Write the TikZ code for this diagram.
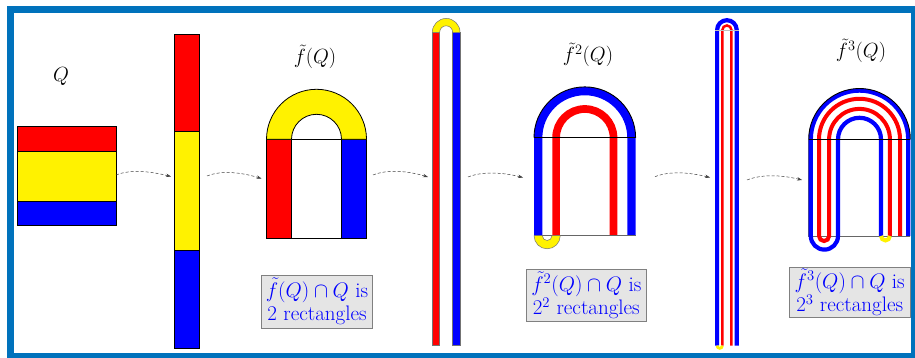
\RequirePackage{fix-cm}
\documentclass[tikz,border=0pt]{standalone}
\usetikzlibrary{arrows.meta,calc}
\definecolor{framecol}{RGB}{0,114,188}
\begin{document}
\begin{tikzpicture}[x=1pt,y=-1pt,
  outl/.style={draw=black,line width=0.8pt},
  thinoutl/.style={draw=black!55,line width=0.5pt},
  flow/.style={draw=black!75,line width=0.5pt,dash pattern=on 3pt off 2pt,-{Stealth[length=5pt,width=3.5pt]}},
  lbl/.style={font=\fontsize{20.5}{24}\selectfont},
  infobox/.style={draw=black!50,fill=black!10,line width=0.8pt,text=blue,align=center,font=\fontsize{21}{23.5}\selectfont,inner sep=1pt},
]
\useasboundingbox (0,0) rectangle (915,358);
\fill[white] (0,0) rectangle (915,358);
\draw[framecol,line width=7pt] (10.5,9.5) rectangle (914.5,356.5);

% ---- Q square
\filldraw[fill=red,outl] (17,126) rectangle (116,151);
\filldraw[fill=yellow,outl] (17,151) rectangle (116,201);
\filldraw[fill=blue,outl] (17,201) rectangle (116,225);
\node[lbl] (lq) at (61,76) {$Q$};

% ---- strip 1
\filldraw[fill=red,outl] (174.3,34.3) rectangle (199.3,131.7);
\filldraw[fill=yellow,outl] (174.3,131.7) rectangle (199.3,250);
\filldraw[fill=blue,outl] (174.3,250) rectangle (199.3,348.3);

% ---- horseshoe 1
\filldraw[fill=red,outl] (266.5,139.3) rectangle (291.5,238.3);
\filldraw[fill=blue,outl] (341.5,139.3) rectangle (366.5,238.3);
\draw[outl] (291.5,139.3) rectangle (341.5,238.3);
\filldraw[fill=yellow,outl] (266.5,139.3) arc(180:360:50) -- (341.5,139.3) arc(360:180:25) -- cycle;
\node[lbl] (l1) at (315,57) {$\tilde f(Q)$};
\node[infobox,minimum width=110.6pt,minimum height=53.3pt] (b1) at (317,301.7) {$\tilde f(Q)\cap Q$ is\\2 rectangles};

% ---- strip 2
\filldraw[fill=red,thinoutl] (432.3,32.3) rectangle (439.5,345.7);
\filldraw[fill=blue,thinoutl] (452.5,32.3) rectangle (460,345.7);
\filldraw[fill=yellow,thinoutl] (432.3,32.3) arc(180:360:13.85) -- (452.65,32.3) arc(360:180:6.5) -- cycle;

% ---- horseshoe 2
\draw[black!60,line width=0.8pt] (534,137.7) -- (534,235.7) -- (635.6,235.7);
\draw[blue,line width=8.3pt] (538.2,235.7) -- (538.2,137.7) arc(180:360:46.6) -- (631.4,235.7);
\draw[red,line width=7.7pt] (556.1,235.7) -- (556.1,137.7) arc(180:360:28.7) -- (613.5,235.7);
\draw[black!60,line width=0.6pt] (556,235.7) -- (635.6,235.7);
\filldraw[fill=yellow,thinoutl] (534.05,235.7) arc(180:0:13.1) -- (551.95,235.7) arc(0:180:4.8) -- cycle;
\draw[black,line width=0.9pt] (534,137.7) arc(180:360:50.8);
\draw[black,line width=0.7pt] (534,137.7) -- (635.6,137.7);
\node[lbl] (l2) at (588,55) {$\tilde f^2(Q)$};
\node[infobox,minimum width=119.3pt,minimum height=52.4pt] (b2) at (586.3,295.5) {$\tilde f^2(Q)\cap Q$ is\\$2^2$ rectangles};

% ---- strip 3
\draw[blue,line width=4.2pt] (717.1,345.7) -- (717.1,30) arc(180:360:9.8) -- (736.7,345.7);
\draw[red,line width=2.5pt] (722.35,345.7) -- (722.35,30) arc(180:360:4.55) -- (731.45,345.7);
\draw[black!25,line width=0.5pt] (715,30) -- (738.8,30);
\draw[yellow,line width=2.8pt] (717.1,345.7) arc(180:0:2.62);

% ---- horseshoe 3
\draw[black!60,line width=0.8pt] (808.7,139.3) -- (808.7,236) -- (910.3,236);
\draw[blue,line width=4.2pt] (908.2,236) -- (908.2,139.3) arc(0:-180:48.7) -- (810.8,236) arc(180:0:13.6) -- (838,139.3) arc(180:360:21.5) -- (881,236);
\draw[red,line width=4pt] (900,236) -- (900,139.3) arc(0:-180:40.5) -- (819,236) arc(180:0:5.05) -- (829.1,139.3) arc(180:360:30.4) -- (889.9,236);
\draw[black!60,line width=0.6pt] (842,236) -- (910.3,236);
\draw[yellow,line width=4pt] (881,236) arc(180:0:4.45);
\draw[black,line width=0.9pt] (808.7,139.3) arc(180:360:50.8);
\draw[black,line width=0.7pt] (808.7,139.3) -- (910.3,139.3);
\node[lbl] (l3) at (861,51) {$\tilde f^3(Q)$};
\node[infobox,minimum width=120.7pt,minimum height=50pt] (b3) at (849.7,292.7) {$\tilde f^3(Q)\cap Q$ is\\$2^3$ rectangles};

% ---- arrows
\coordinate (s1) at (116,175);   \coordinate (e1) at (171,176.5);
\coordinate (s2) at (207,176);   \coordinate (e2) at (261.5,178.5);
\coordinate (s3) at (373,175);   \coordinate (e3) at (428,177);
\coordinate (s4) at (468,177);   \coordinate (e4) at (523,177.5);
\coordinate (s5) at (655,176.7); \coordinate (e5) at (710,177.5);
\coordinate (s6) at (747,180);   \coordinate (e6) at (802,180);
\draw[flow] (s1) .. controls ($(s1)+(15,-6)$) and ($(e1)+(-20,-5)$) .. (e1);
\draw[flow] (s2) .. controls ($(s2)+(15,-6)$) and ($(e2)+(-20,-6)$) .. (e2);
\draw[flow] (s3) .. controls ($(s3)+(15,-6)$) and ($(e3)+(-20,-6)$) .. (e3);
\draw[flow] (s4) .. controls ($(s4)+(15,-6)$) and ($(e4)+(-20,-5)$) .. (e4);
\draw[flow] (s5) .. controls ($(s5)+(15,-6)$) and ($(e5)+(-20,-5)$) .. (e5);
\draw[flow] (s6) .. controls ($(s6)+(15,-6)$) and ($(e6)+(-20,-5)$) .. (e6);
\end{tikzpicture}
\end{document}
